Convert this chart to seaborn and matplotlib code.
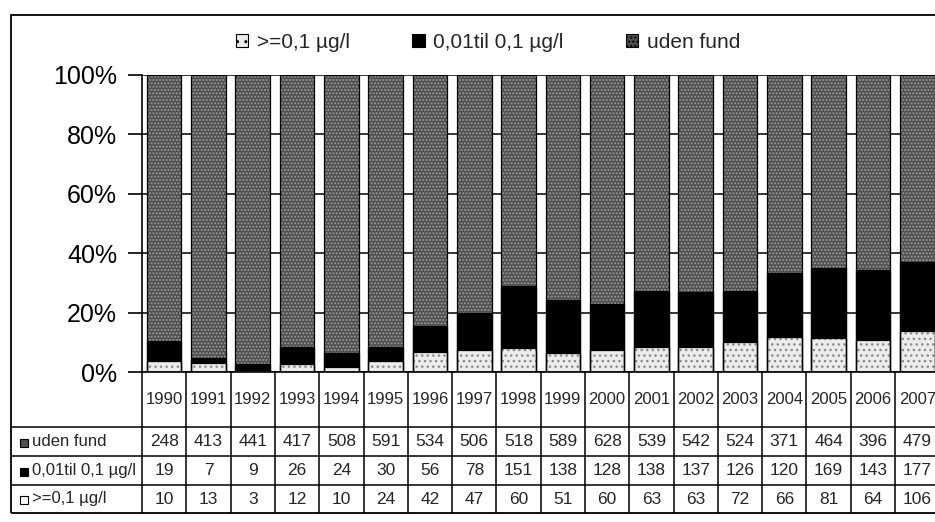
import pandas as pd
import seaborn as sns
import matplotlib.pyplot as plt
from matplotlib.patches import Patch, Rectangle

# Data
years = ['1990', '1991', '1992', '1993', '1994', '1995', '1996', '1997', '1998',
         '1999', '2000', '2001', '2002', '2003', '2004', '2005', '2006', '2007']
uden_fund = [248, 413, 441, 417, 508, 591, 534, 506, 518, 589, 628, 539, 542, 524, 371, 464, 396, 479]
mellem = [19, 7, 9, 26, 24, 30, 56, 78, 151, 138, 128, 138, 137, 126, 120, 169, 143, 177]
over = [10, 13, 3, 12, 10, 24, 42, 47, 60, 51, 60, 63, 63, 72, 66, 81, 64, 106]

row_labels = ['uden fund', '0,01til 0,1 µg/l', '>=0,1 µg/l']
legend_labels = ['>=0,1 µg/l', '0,01til 0,1 µg/l', 'uden fund']

df = pd.DataFrame({'aar': years, 'uden': uden_fund, 'mellem': mellem, 'over': over})
total = df['uden'] + df['mellem'] + df['over']
df['top'] = (df['uden'] + df['mellem'] + df['over']) / total
df['mid'] = (df['mellem'] + df['over']) / total
df['low'] = df['over'] / total

sns.set_style('white')
plt.rcParams['font.family'] = ['Liberation Sans', 'DejaVu Sans']
plt.rcParams['hatch.linewidth'] = 1.0

dark_grey = '#4f4f4f'
light_grey = '#ececec'

fig = plt.figure(figsize=(9.35, 5.22), dpi=100)
W, H = 935, 522
cell = 44.3
x0, y_top, y_bot = 142, 75, 372
ax = fig.add_axes([x0 / W, 1 - y_bot / H, 18 * cell / W, (y_bot - y_top) / H])

# stacked bars, drawn as overlapping cumulative bars
layers = [('top', dark_grey, '.....', '#9a9a9a'),
          ('mid', 'black', None, 'black'),
          ('low', light_grey, '...', '#8a8a8a')]
for col, face, hatch, hcol in layers:
    sns.barplot(data=df, x='aar', y=col, color=face, saturation=1, width=0.78,
                errorbar=None, hatch=hatch, edgecolor=hcol, linewidth=0, ax=ax)
for col, _, _, _ in layers:
    sns.barplot(data=df, x='aar', y=col, color='black', fill=False, width=0.78,
                errorbar=None, linewidth=0.9, ax=ax)

ax.set_xlim(-0.5, 17.5)
ax.set_ylim(0, 1)
ax.set_yticks([0, 0.2, 0.4, 0.6, 0.8, 1.0])
ax.set_yticklabels(['0%', '20%', '40%', '60%', '80%', '100%'])
ax.tick_params(axis='y', length=10, width=1.2, pad=8, labelsize=18, colors='black', left=True)
ax.tick_params(axis='x', length=0, labelbottom=False)
ax.set_xlabel('')
ax.set_ylabel('')
ax.yaxis.grid(True, color='black', linewidth=1.1)
ax.set_axisbelow(True)
for s in ['top', 'right']:
    ax.spines[s].set_visible(False)
for s in ['left', 'bottom']:
    ax.spines[s].set_color('black')
    ax.spines[s].set_linewidth(1.2)

# legend at the top
handles = [Patch(facecolor=light_grey, edgecolor='black', hatch='..', linewidth=0.8),
           Patch(facecolor='black', edgecolor='black', linewidth=0.8),
           Patch(facecolor=dark_grey, edgecolor='black', hatch='....', linewidth=0.8)]
fig.legend(handles, legend_labels, loc='center', bbox_to_anchor=(488 / W, 1 - 42 / H),
           ncol=3, frameon=False, fontsize=15, handlelength=0.6, handleheight=0.6,
           handletextpad=0.4, columnspacing=3.0)

# data table below the chart
left_px, tab_top, tab_bot = 11, 372, 513
tab = fig.add_axes([left_px / W, 1 - tab_bot / H, (x0 + 18 * cell - left_px) / W,
                    (tab_bot - tab_top) / H])
xl = -0.5 - (x0 - left_px) / cell
tab.set_xlim(xl, 17.5)
tab.set_ylim(tab_bot - tab_top, 0)
tab.axis('off')
rows = [55, 84, 113, 141]
tab.vlines([i - 0.5 for i in range(19)], 0, rows[-1], color='black', lw=1.1, clip_on=False)
tab.hlines(rows[:3], xl, 17.5, color='black', lw=1.1, clip_on=False)

for i, y in enumerate(years):
    tab.text(i, rows[0] / 2, y, ha='center', va='center', fontsize=12)

series = [uden_fund, mellem, over]
icon_face = [dark_grey, 'black', 'white']
for r, (vals, lab, fc) in enumerate(zip(series, row_labels, icon_face)):
    yc = (rows[r] + rows[r + 1]) / 2
    for i, v in enumerate(vals):
        tab.text(i, yc, str(v), ha='center', va='center', fontsize=12.5)
    tab.plot([xl + 0.3], [yc + 1], marker='s', markersize=6, markerfacecolor=fc,
             markeredgecolor='black', markeredgewidth=0.8, clip_on=False)
    tab.text(xl + 0.47, yc, lab, ha='left', va='center', fontsize=12)

# outer frame (runs off the right edge, like the scan)
fig.add_artist(Rectangle((left_px / W, 1 - tab_bot / H), (990 - left_px) / W,
                         (tab_bot - 15) / H, transform=fig.transFigure, fill=False,
                         edgecolor='black', linewidth=1.3))

fig.savefig('out.png', dpi=100)
